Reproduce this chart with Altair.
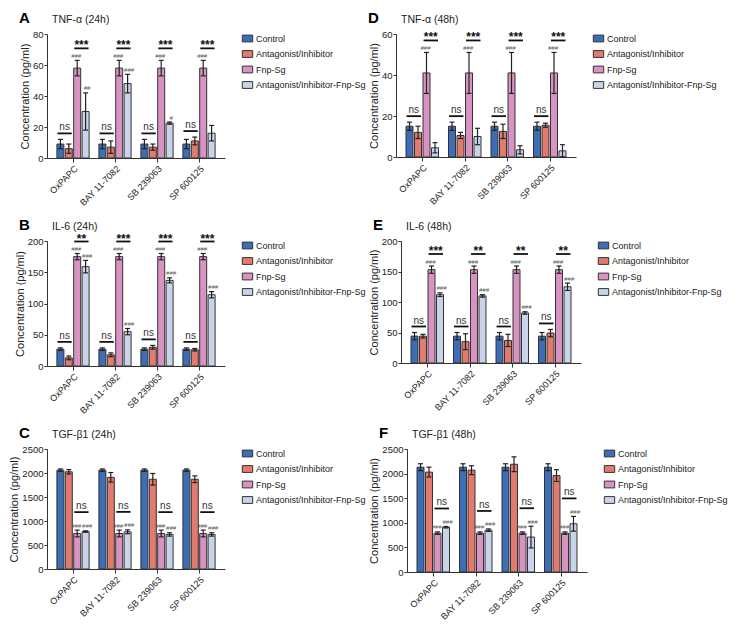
import altair as alt
import pandas as pd

GROUPS = ["OxPAPC", "BAY 11-7082", "SB 239063", "SP 600125"]
SERIES = ["Control", "Antagonist/Inhibitor", "Fnp-Sg", "Antagonist/Inhibitor-Fnp-Sg"]
COLORS = ["#3D6DB4", "#E17A6F", "#D993C3", "#C9D4EB"]

# A: TNF-α (24h)   rows = series, columns = groups
A_MEAN = [[9, 9, 9, 9], [6, 7, 7, 11], [58, 58, 58, 58], [30, 48, 22.5, 16]]
A_SD = [[3, 3, 3, 3], [3, 4, 2, 2.5], [5, 5, 5, 5], [12, 6, 0.7, 5]]
A_NS = ["ns", "ns", "ns", "ns"]
A_SIG = ["***", "***", "***", "***"]
A_HASH_FNP = ["###", "###", "###", "###"]
A_HASH_MIX = ["##", "###", "#", ""]
A_TICKS = [0, 20, 40, 60, 80]

# B: IL-6 (24h)
B_MEAN = [[27, 27, 27, 27], [13, 18, 30, 26], [175, 175, 175, 175], [159, 55, 137, 114]]
B_SD = [[2, 2, 2, 2], [3, 3, 3, 2], [5, 5, 5, 5], [10, 5, 4, 5]]
B_NS = ["ns", "ns", "ns", "ns"]
B_SIG = ["**", "***", "***", "***"]
B_HASH_FNP = ["###", "###", "###", "###"]
B_HASH_MIX = ["###", "###", "###", "###"]
B_TICKS = [0, 50, 100, 150, 200]

# C: TGF-β1 (24h)
C_MEAN = [[2060, 2060, 2060, 2060], [2025, 1910, 1870, 1870], [740, 740, 740, 740], [780, 775, 720, 720]]
C_SD = [[25, 25, 25, 25], [45, 100, 120, 70], [70, 70, 70, 70], [15, 40, 35, 35]]
C_NS = []
C_SIG = ["ns", "ns", "ns", "ns"]
C_HASH_FNP = ["###", "###", "###", "###"]
C_HASH_MIX = ["###", "###", "###", "###"]
C_TICKS = [0, 500, 1000, 1500, 2000, 2500]

# D: TNF-α (48h)
D_MEAN = [[15, 15, 15, 15], [12, 10.5, 12.5, 15.5], [41, 41, 41, 41], [4.5, 10, 3.5, 3]]
D_SD = [[2, 2, 2, 2], [3, 1.5, 3.5, 1], [10, 10, 10, 10], [2.5, 4, 2, 3]]
D_NS = ["ns", "ns", "ns", "ns"]
D_SIG = ["***", "***", "***", "***"]
D_HASH_FNP = ["###", "###", "###", "###"]
D_HASH_MIX = ["", "", "", ""]
D_TICKS = [0, 20, 40, 60]

# E: IL-6 (48h)
E_MEAN = [[44, 44, 44, 44], [44, 35, 37, 49], [153, 153, 153, 153], [112, 110, 82, 125]]
E_SD = [[6, 6, 6, 6], [3, 13, 10, 6], [6, 6, 6, 6], [3, 2, 2, 6]]
E_NS = ["ns", "ns", "ns", "ns"]
E_SIG = ["***", "**", "**", "**"]
E_HASH_FNP = ["###", "###", "###", "###"]
E_HASH_MIX = ["###", "###", "###", "###"]
E_TICKS = [0, 50, 100, 150, 200]

# F: TGF-β1 (48h)
F_MEAN = [[2130, 2130, 2130, 2130], [2030, 2070, 2190, 1960], [790, 790, 790, 790], [910, 850, 710, 980]]
F_SD = [[70, 70, 70, 70], [100, 90, 150, 120], [25, 25, 25, 25], [15, 25, 220, 150]]
F_NS = []
F_SIG = ["ns", "ns", "ns", "ns"]
F_HASH_FNP = ["###", "###", "###", "###"]
F_HASH_MIX = ["###", "###", "###", "###"]
F_TICKS = [0, 500, 1000, 1500, 2000, 2500]

FONT = "Liberation Sans"
STEP = 0.2
LABEL_EXPR = "[" + ",".join("'%s'" % g for g in GROUPS) + "][datum.value]"
LEG_SYMBOL = "M-1.3,-0.85H1.3V0.85H-1.3Z"
CAP = "M-1,0L1,0"


def pos(gi, si):
    return gi + (si - 1.5) * STEP


def panel(letter, title, mean, sd, ns, sig, hash_fnp, hash_mix, ticks, w, h, sig_off):
    rows, caps = [], []
    for si, s in enumerate(SERIES):
        for gi, g in enumerate(GROUPS):
            m, e = mean[si][gi], sd[si][gi]
            rows.append({"series": s, "x": pos(gi, si), "y": m, "lo": m - e, "hi": m + e})
            caps.append({"x": pos(gi, si), "y": m - e})
            caps.append({"x": pos(gi, si), "y": m + e})
    bars = pd.DataFrame(rows)

    xs = alt.Scale(domain=[-0.5, 3.5], nice=False, zero=False)
    xa = alt.Axis(values=[0, 1, 2, 3], labelExpr=LABEL_EXPR, title=None, labelAngle=-45,
                  labelFontSize=9, tickSize=4, labelPadding=2, labelOverlap=False)
    ys = alt.Scale(domain=[0, ticks[-1]], nice=False, zero=True)
    ya = alt.Axis(values=ticks, format="d", title="Concentration (pg/ml)", labelFontSize=9.5,
                  tickSize=3, labelPadding=1, titlePadding=2, titleFontSize=11,
                  titleFontWeight="normal", labelOverlap=False)

    def X(f):
        return alt.X(f + ":Q", scale=xs, axis=xa)

    def Y(f):
        return alt.Y(f + ":Q", scale=ys, axis=ya)

    layers = []
    layers.append(alt.Chart(bars).mark_bar(size=7, stroke="#333333", strokeWidth=1).encode(
        x=X("x"), y=Y("y"),
        fill=alt.Fill("series:N", scale=alt.Scale(domain=SERIES, range=COLORS),
                      sort=SERIES, legend=alt.Legend(title=None))))
    layers.append(alt.Chart(bars).mark_rule(color="#222222", strokeWidth=1.2).encode(
        x=X("x"), y=Y("lo"), y2=alt.Y2("hi:Q")))
    layers.append(alt.Chart(pd.DataFrame(caps)).mark_point(
        shape=CAP, size=25, filled=False, color="#222222", strokeWidth=1.2, opacity=1).encode(
        x=X("x"), y=Y("y")))
    for si, labs, dx in ((2, hash_fnp, -1), (3, hash_mix, 1.5)):
        hs = [{"x": pos(gi, si), "y": mean[si][gi] + sd[si][gi], "t": lab}
              for gi, lab in enumerate(labs) if lab]
        if hs:
            layers.append(alt.Chart(pd.DataFrame(hs)).mark_text(
                fontSize=6, fontStyle="italic", color="#555555", baseline="alphabetic",
                dy=-2.5, dx=dx).encode(x=X("x"), y=Y("y"), text="t:N"))

    for (a, b, labs, off) in ((0, 1, ns, -6), (2, 3, sig, sig_off)):
        prs = []
        for gi, lab in enumerate(labs):
            if lab:
                top = max(mean[a][gi] + sd[a][gi], mean[b][gi] + sd[b][gi])
                prs.append({"x": (pos(gi, a) + pos(gi, b)) / 2, "xa": pos(gi, a) - 0.07,
                            "xb": pos(gi, b) + 0.07, "y": top, "t": lab})
        if not prs:
            continue
        pdf = pd.DataFrame(prs)
        layers.append(alt.Chart(pdf).mark_rule(color="#111111", strokeWidth=1.8, yOffset=off).encode(
            x=X("xa"), x2=alt.X2("xb:Q"), y=Y("y")))
        stars = pdf[pdf["t"].str.startswith("*")]
        nss = pdf[~pdf["t"].str.startswith("*")]
        if len(stars):
            layers.append(alt.Chart(stars).mark_text(
                fontSize=12, fontWeight="bold", color="#111111", baseline="alphabetic", dy=off + 1).encode(
                x=X("x"), y=Y("y"), text="t:N"))
        if len(nss):
            layers.append(alt.Chart(nss).mark_text(
                fontSize=10, color="#333333", baseline="alphabetic", dy=off - 3).encode(
                x=X("x"), y=Y("y"), text="t:N"))

    layers.append(alt.Chart(pd.DataFrame({"t": [letter]})).mark_text(
        fontSize=15, fontWeight="bold", color="#000000", align="left", baseline="alphabetic").encode(
        x=alt.value(-28), y=alt.value(-11), text="t:N"))
    layers.append(alt.Chart(pd.DataFrame({"t": [title]})).mark_text(
        fontSize=10.5, color="#222222", align="left", baseline="alphabetic").encode(
        x=alt.value(5), y=alt.value(-11), text="t:N"))

    return alt.layer(*layers).properties(width=w, height=h)


pA = panel("A", "TNF-α (24h)", A_MEAN, A_SD, A_NS, A_SIG, A_HASH_FNP, A_HASH_MIX, A_TICKS, 178, 124, -12)
pB = panel("B", "IL-6 (24h)", B_MEAN, B_SD, B_NS, B_SIG, B_HASH_FNP, B_HASH_MIX, B_TICKS, 178, 125, -12)
pC = panel("C", "TGF-β1 (24h)", C_MEAN, C_SD, C_NS, C_SIG, C_HASH_FNP, C_HASH_MIX, C_TICKS, 178, 120, -18)
pD = panel("D", "TNF-α (48h)", D_MEAN, D_SD, D_NS, D_SIG, D_HASH_FNP, D_HASH_MIX, D_TICKS, 180, 123, -12)
pE = panel("E", "IL-6 (48h)", E_MEAN, E_SD, E_NS, E_SIG, E_HASH_FNP, E_HASH_MIX, E_TICKS, 180, 122, -12)
pF = panel("F", "TGF-β1 (48h)", F_MEAN, F_SD, F_NS, F_SIG, F_HASH_FNP, F_HASH_MIX, F_TICKS, 180, 123, -18)


def row(left, right):
    return alt.hconcat(left, right, spacing=2).resolve_scale(fill="independent").resolve_legend(fill="independent")


chart = alt.vconcat(row(pA, pD), row(pB, pE), row(pC, pF), spacing=10).resolve_scale(
    fill="independent").resolve_legend(fill="independent").properties(
    padding={"left": 0, "top": 3, "right": 0, "bottom": 0}
).configure(font=FONT).configure_view(strokeWidth=0).configure_axis(
    grid=False, domainColor="#333333", tickColor="#333333", labelColor="#222222",
    titleColor="#222222", domainWidth=1
).configure_legend(
    orient="right", offset=18, labelFontSize=9, symbolType=LEG_SYMBOL, symbolSize=64,
    symbolStrokeColor="#333333", symbolStrokeWidth=1, rowPadding=4.5, padding=0, labelLimit=220,
    labelColor="#222222"
)

chart.save("out.html", embed_options={"renderer": "svg", "actions": False})
